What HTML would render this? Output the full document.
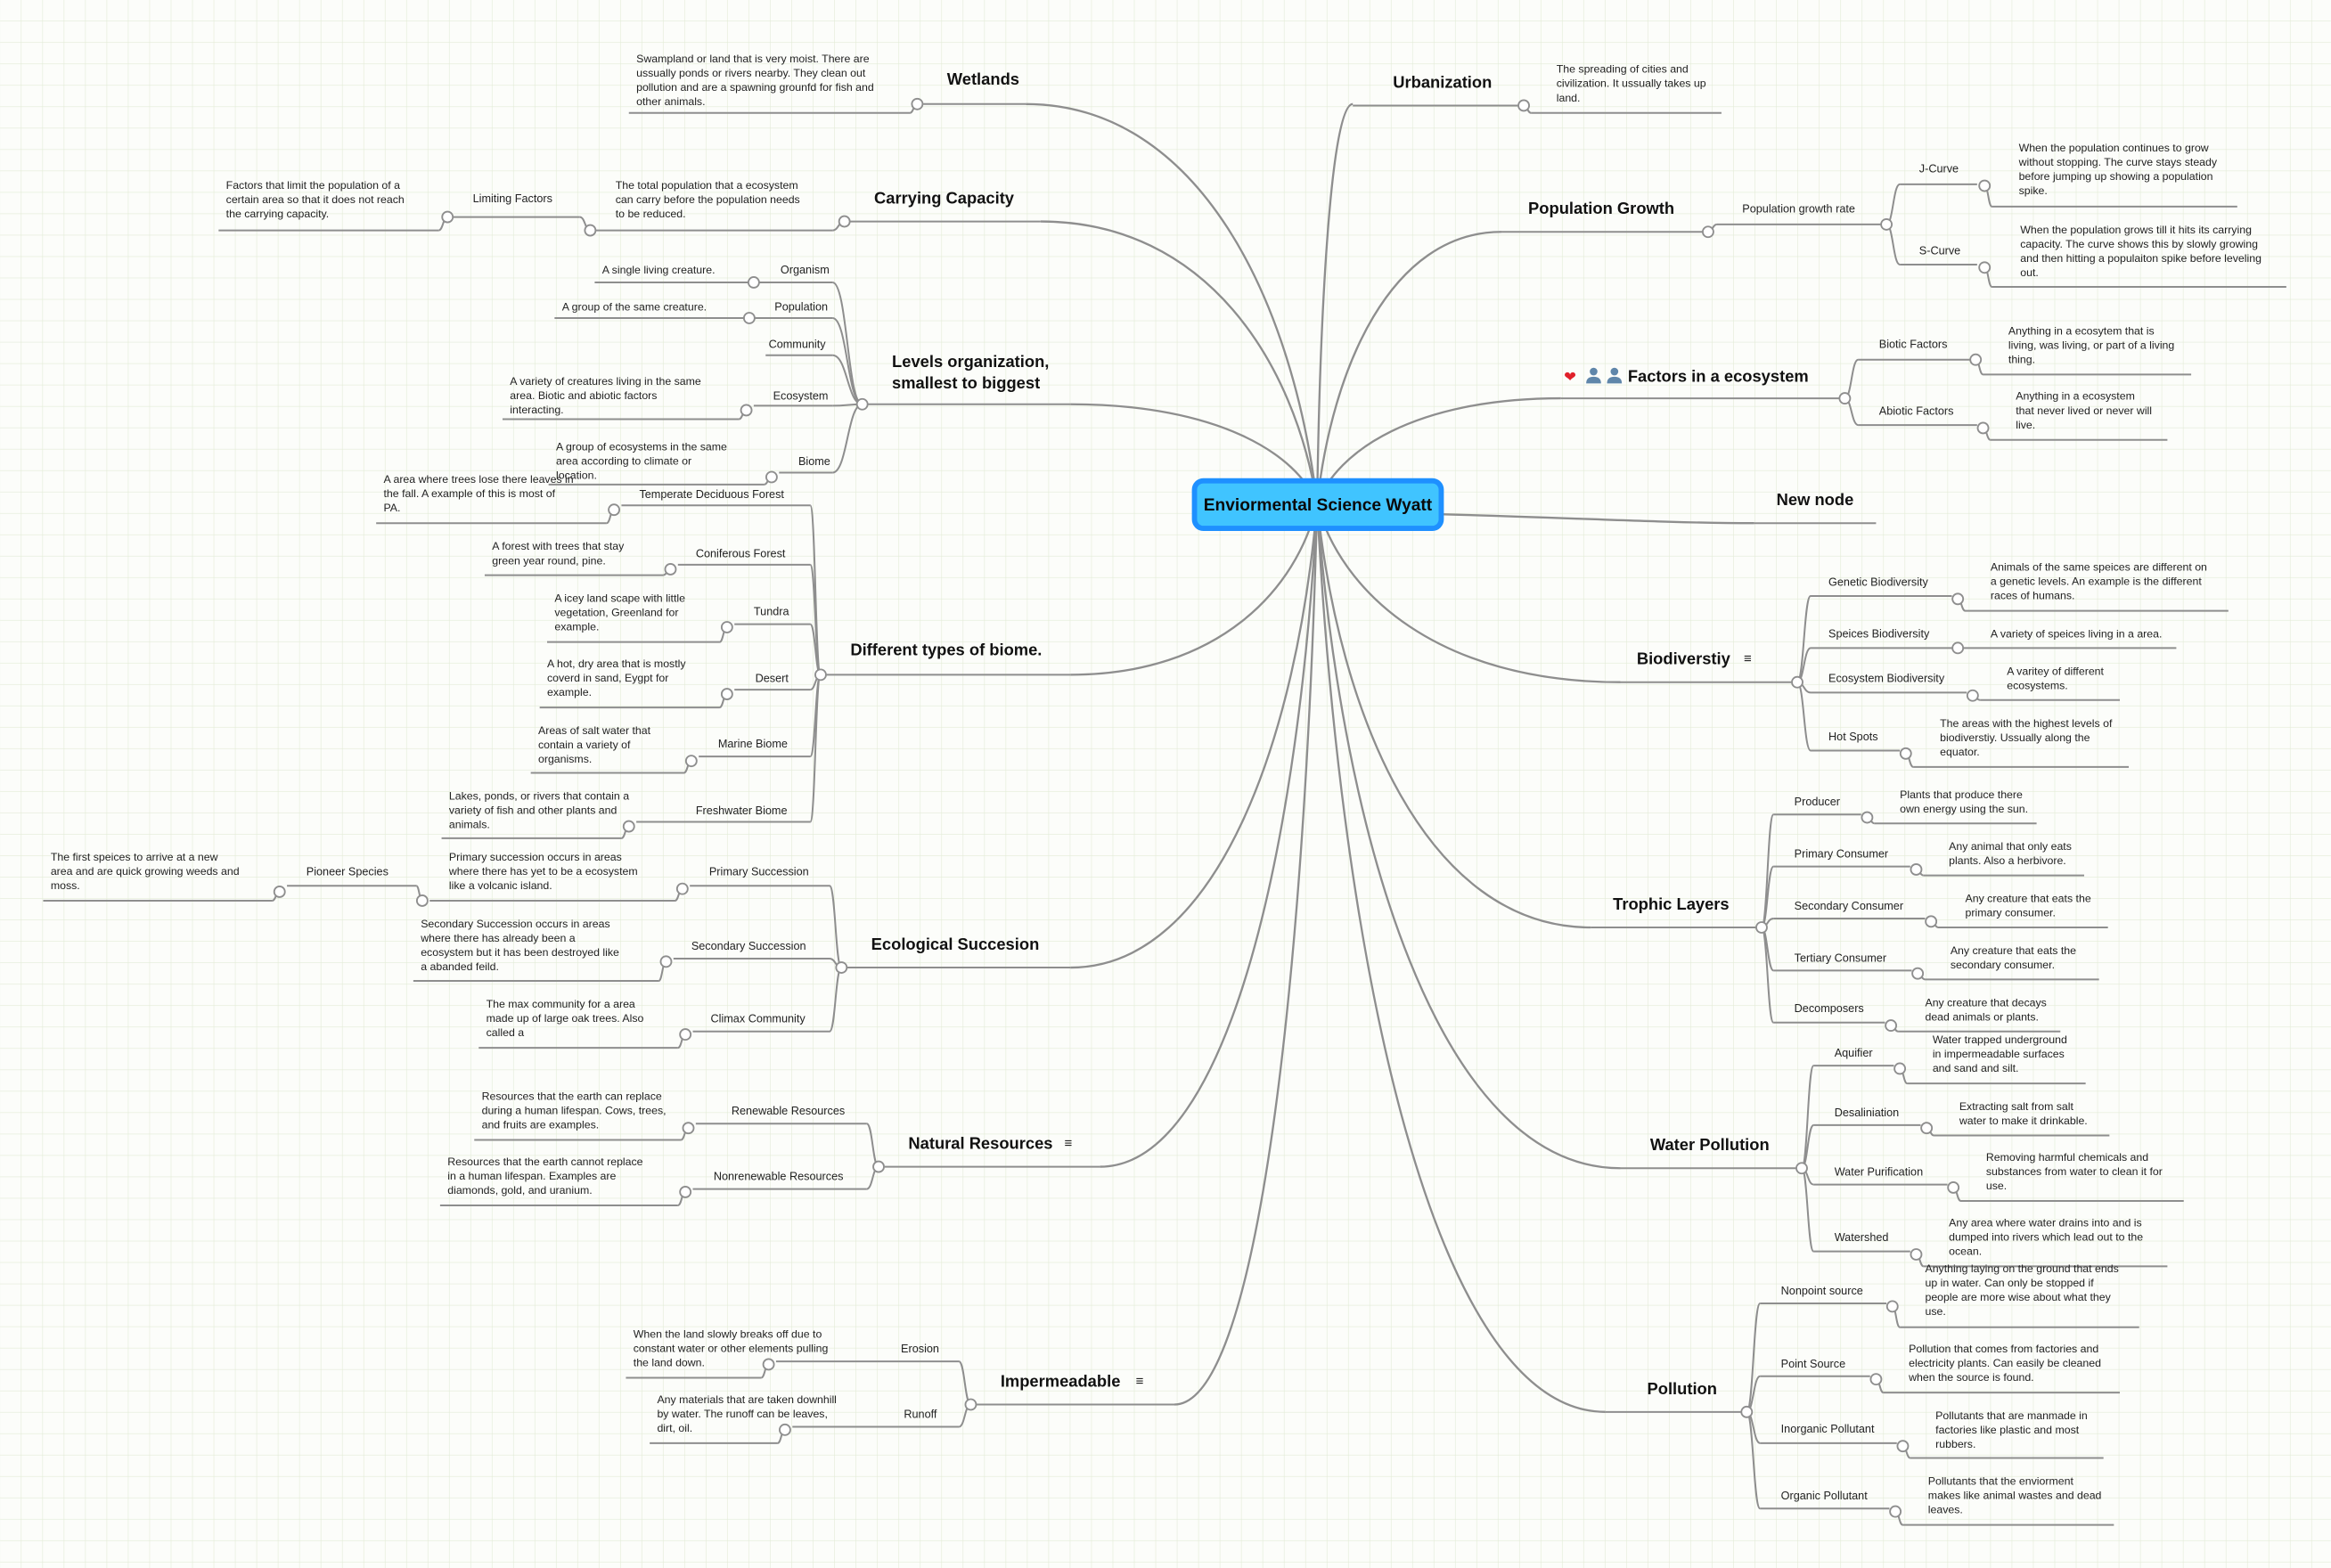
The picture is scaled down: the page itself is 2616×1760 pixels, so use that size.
<!DOCTYPE html>
<html><head><meta charset="utf-8"><style>
html,body{margin:0;padding:0;background:#fcfdfa;}
svg{display:block;}
text{font-family:"Liberation Sans",sans-serif;fill:#222;font-size:7.4px;}
.t{font-size:11px;font-weight:bold;fill:#111;}
.l{font-size:7.6px;}
</style></head><body>
<svg id="s" width="2616" height="1760" viewBox="0 0 1568 1055" xmlns="http://www.w3.org/2000/svg">
<defs><pattern id="g" width="14.4" height="14.4" patternUnits="userSpaceOnUse"><path d="M14.4 0V14.4H0" fill="none" stroke="#e2ebd6" stroke-width="0.7"/></pattern></defs>
<rect width="1568" height="1055" fill="#fcfdfa"/>
<rect width="1568" height="1055" fill="url(#g)"/>
<g id="lines" fill="none" stroke="#8e8e8e" stroke-width="1.2"></g>
<rect x="803.5" y="323.5" width="166" height="32" rx="6" fill="#40c4ff" stroke="#1e90ff" stroke-width="3.5"/>
<text x="886.5" y="343.5" text-anchor="middle" style="font-size:11.5px;font-weight:bold;fill:#0a0a0a">Enviormental Science Wyatt</text>
<g id="circ"></g>

<text class="t" x="637" y="57">Wetlands</text>
<text x="428" y="42"><tspan x="428">Swampland or land that is very moist. There are</tspan><tspan x="428" dy="9.6">ussually ponds or rivers nearby. They clean out</tspan><tspan x="428" dy="9.6">pollution and are a spawning grounfd for fish and</tspan><tspan x="428" dy="9.6">other animals.</tspan></text>

<text class="t" x="588" y="137">Carrying Capacity</text>
<text x="414" y="127"><tspan x="414">The total population that a ecosystem</tspan><tspan x="414" dy="9.6">can carry before the population needs</tspan><tspan x="414" dy="9.6">to be reduced.</tspan></text>
<text class="l" x="318" y="136">Limiting Factors</text>
<text x="152" y="127"><tspan x="152">Factors that limit the population of a</tspan><tspan x="152" dy="9.6">certain area so that it does not reach</tspan><tspan x="152" dy="9.6">the carrying capacity.</tspan></text>

<text class="t" x="600" y="247"><tspan x="600">Levels organization,</tspan><tspan x="600" dy="14.5">smallest to biggest</tspan></text>
<text class="l" x="525" y="184">Organism</text>
<text x="405" y="184">A single living creature.</text>
<text class="l" x="521" y="209">Population</text>
<text x="378" y="209">A group of the same creature.</text>
<text class="l" x="517" y="234">Community</text>
<text class="l" x="520" y="269">Ecosystem</text>
<text x="343" y="259"><tspan x="343">A variety of creatures living in the same</tspan><tspan x="343" dy="9.6">area. Biotic and abiotic factors</tspan><tspan x="343" dy="9.6">interacting.</tspan></text>
<text class="l" x="537" y="313">Biome</text>
<text x="374" y="303"><tspan x="374">A group of ecosystems in the same</tspan><tspan x="374" dy="9.6">area according to climate or</tspan><tspan x="374" dy="9.6">location.</tspan></text>

<text class="t" x="572" y="441">Different types of biome.</text>
<text class="l" x="430" y="335">Temperate Deciduous Forest</text>
<text x="258" y="325"><tspan x="258">A area where trees lose there leaves in</tspan><tspan x="258" dy="9.6">the fall. A example of this is most of</tspan><tspan x="258" dy="9.6">PA.</tspan></text>
<text class="l" x="468" y="375">Coniferous Forest</text>
<text x="331" y="370"><tspan x="331">A forest with trees that stay</tspan><tspan x="331" dy="9.6">green year round, pine.</tspan></text>
<text class="l" x="507" y="414">Tundra</text>
<text x="373" y="405"><tspan x="373">A icey land scape with little</tspan><tspan x="373" dy="9.6">vegetation, Greenland for</tspan><tspan x="373" dy="9.6">example.</tspan></text>
<text class="l" x="508" y="459">Desert</text>
<text x="368" y="449"><tspan x="368">A hot, dry area that is mostly</tspan><tspan x="368" dy="9.6">coverd in sand, Eygpt for</tspan><tspan x="368" dy="9.6">example.</tspan></text>
<text class="l" x="483" y="503">Marine Biome</text>
<text x="362" y="494"><tspan x="362">Areas of salt water that</tspan><tspan x="362" dy="9.6">contain a variety of</tspan><tspan x="362" dy="9.6">organisms.</tspan></text>
<text class="l" x="468" y="548">Freshwater Biome</text>
<text x="302" y="538"><tspan x="302">Lakes, ponds, or rivers that contain a</tspan><tspan x="302" dy="9.6">variety of fish and other plants and</tspan><tspan x="302" dy="9.6">animals.</tspan></text>

<text class="t" x="586" y="639">Ecological Succesion</text>
<text class="l" x="477" y="589">Primary Succession</text>
<text x="302" y="579"><tspan x="302">Primary succession occurs in areas</tspan><tspan x="302" dy="9.6">where there has yet to be a ecosystem</tspan><tspan x="302" dy="9.6">like a volcanic island.</tspan></text>
<text class="l" x="206" y="589">Pioneer Species</text>
<text x="34" y="579"><tspan x="34">The first speices to arrive at a new</tspan><tspan x="34" dy="9.6">area and are quick growing weeds and</tspan><tspan x="34" dy="9.6">moss.</tspan></text>
<text class="l" x="465" y="639">Secondary Succession</text>
<text x="283" y="624"><tspan x="283">Secondary Succession occurs in areas</tspan><tspan x="283" dy="9.6">where there has already been a</tspan><tspan x="283" dy="9.6">ecosystem but it has been destroyed like</tspan><tspan x="283" dy="9.6">a abanded feild.</tspan></text>
<text class="l" x="478" y="688">Climax Community</text>
<text x="327" y="678"><tspan x="327">The max community for a area</tspan><tspan x="327" dy="9.6">made up of large oak trees. Also</tspan><tspan x="327" dy="9.6">called a</tspan></text>

<text class="t" x="611" y="773">Natural Resources</text>
<text x="716" y="772" style="font-size:9px;font-weight:bold">≡</text>
<text class="l" x="492" y="750">Renewable Resources</text>
<text x="324" y="740"><tspan x="324">Resources that the earth can replace</tspan><tspan x="324" dy="9.6">during a human lifespan. Cows, trees,</tspan><tspan x="324" dy="9.6">and fruits are examples.</tspan></text>
<text class="l" x="480" y="794">Nonrenewable Resources</text>
<text x="301" y="784"><tspan x="301">Resources that the earth cannot replace</tspan><tspan x="301" dy="9.6">in a human lifespan. Examples are</tspan><tspan x="301" dy="9.6">diamonds, gold, and uranium.</tspan></text>

<text class="t" x="673" y="933">Impermeadable</text>
<text x="764" y="932" style="font-size:9px;font-weight:bold">≡</text>
<text class="l" x="606" y="910">Erosion</text>
<text x="426" y="900"><tspan x="426">When the land slowly breaks off due to</tspan><tspan x="426" dy="9.6">constant water or other elements pulling</tspan><tspan x="426" dy="9.6">the land down.</tspan></text>
<text class="l" x="608" y="954">Runoff</text>
<text x="442" y="944"><tspan x="442">Any materials that are taken downhill</tspan><tspan x="442" dy="9.6">by water. The runoff can be leaves,</tspan><tspan x="442" dy="9.6">dirt, oil.</tspan></text>

<text class="t" x="937" y="59">Urbanization</text>
<text x="1047" y="49"><tspan x="1047">The spreading of cities and</tspan><tspan x="1047" dy="9.6">civilization. It ussually takes up</tspan><tspan x="1047" dy="9.6">land.</tspan></text>

<text class="t" x="1028" y="144">Population Growth</text>
<text class="l" x="1172" y="143">Population growth rate</text>
<text class="l" x="1291" y="116">J-Curve</text>
<text x="1358" y="102"><tspan x="1358">When the population continues to grow</tspan><tspan x="1358" dy="9.6">without stopping. The curve stays steady</tspan><tspan x="1358" dy="9.6">before jumping up showing a population</tspan><tspan x="1358" dy="9.6">spike.</tspan></text>
<text class="l" x="1291" y="171">S-Curve</text>
<text x="1359" y="157"><tspan x="1359">When the population grows till it hits its carrying</tspan><tspan x="1359" dy="9.6">capacity. The curve shows this by slowly growing</tspan><tspan x="1359" dy="9.6">and then hitting a populaiton spike before leveling</tspan><tspan x="1359" dy="9.6">out.</tspan></text>

<text x="1052" y="257" style="font-size:10px;fill:#e0202a">❤</text>
<g fill="#5f86aa"><circle cx="1072" cy="250" r="2.6"/><path d="M1067 258 Q1067 253.5 1072 253.5 Q1077 253.5 1077 258Z"/><circle cx="1086" cy="250" r="2.6"/><path d="M1081 258 Q1081 253.5 1086 253.5 Q1091 253.5 1091 258Z"/></g>
<text class="t" x="1095" y="257">Factors in a ecosystem</text>
<text class="l" x="1264" y="234">Biotic Factors</text>
<text x="1351" y="225"><tspan x="1351">Anything in a ecosytem that is</tspan><tspan x="1351" dy="9.6">living, was living, or part of a living</tspan><tspan x="1351" dy="9.6">thing.</tspan></text>
<text class="l" x="1264" y="279">Abiotic Factors</text>
<text x="1356" y="269"><tspan x="1356">Anything in a ecosystem</tspan><tspan x="1356" dy="9.6">that never lived or never will</tspan><tspan x="1356" dy="9.6">live.</tspan></text>

<text class="t" x="1195" y="340">New node</text>

<text class="t" x="1101" y="447">Biodiverstiy</text>
<text x="1173" y="446" style="font-size:9px;font-weight:bold">≡</text>
<text class="l" x="1230" y="394">Genetic Biodiversity</text>
<text x="1339" y="384"><tspan x="1339">Animals of the same speices are different on</tspan><tspan x="1339" dy="9.6">a genetic levels. An example is the different</tspan><tspan x="1339" dy="9.6">races of humans.</tspan></text>
<text class="l" x="1230" y="429">Speices Biodiversity</text>
<text x="1339" y="429">A variety of speices living in a area.</text>
<text class="l" x="1230" y="459">Ecosystem Biodiversity</text>
<text x="1350" y="454"><tspan x="1350">A varitey of different</tspan><tspan x="1350" dy="9.6">ecosystems.</tspan></text>
<text class="l" x="1230" y="498">Hot Spots</text>
<text x="1305" y="489"><tspan x="1305">The areas with the highest levels of</tspan><tspan x="1305" dy="9.6">biodiverstiy. Ussually along the</tspan><tspan x="1305" dy="9.6">equator.</tspan></text>

<text class="t" x="1085" y="612">Trophic Layers</text>
<text class="l" x="1207" y="542">Producer</text>
<text x="1278" y="537"><tspan x="1278">Plants that produce there</tspan><tspan x="1278" dy="9.6">own energy using the sun.</tspan></text>
<text class="l" x="1207" y="577">Primary Consumer</text>
<text x="1311" y="572"><tspan x="1311">Any animal that only eats</tspan><tspan x="1311" dy="9.6">plants. Also a herbivore.</tspan></text>
<text class="l" x="1207" y="612">Secondary Consumer</text>
<text x="1322" y="607"><tspan x="1322">Any creature that eats the</tspan><tspan x="1322" dy="9.6">primary consumer.</tspan></text>
<text class="l" x="1207" y="647">Tertiary Consumer</text>
<text x="1312" y="642"><tspan x="1312">Any creature that eats the</tspan><tspan x="1312" dy="9.6">secondary consumer.</tspan></text>
<text class="l" x="1207" y="681">Decomposers</text>
<text x="1295" y="677"><tspan x="1295">Any creature that decays</tspan><tspan x="1295" dy="9.6">dead animals or plants.</tspan></text>

<text class="t" x="1110" y="774">Water Pollution</text>
<text class="l" x="1234" y="711">Aquifier</text>
<text x="1300" y="702"><tspan x="1300">Water trapped underground</tspan><tspan x="1300" dy="9.6">in impermeadable surfaces</tspan><tspan x="1300" dy="9.6">and sand and silt.</tspan></text>
<text class="l" x="1234" y="751">Desaliniation</text>
<text x="1318" y="747"><tspan x="1318">Extracting salt from salt</tspan><tspan x="1318" dy="9.6">water to make it drinkable.</tspan></text>
<text class="l" x="1234" y="791">Water Purification</text>
<text x="1336" y="781"><tspan x="1336">Removing harmful chemicals and</tspan><tspan x="1336" dy="9.6">substances from water to clean it for</tspan><tspan x="1336" dy="9.6">use.</tspan></text>
<text class="l" x="1234" y="835">Watershed</text>
<text x="1311" y="825"><tspan x="1311">Any area where water drains into and is</tspan><tspan x="1311" dy="9.6">dumped into rivers which lead out to the</tspan><tspan x="1311" dy="9.6">ocean.</tspan></text>

<text class="t" x="1108" y="938">Pollution</text>
<text class="l" x="1198" y="871">Nonpoint source</text>
<text x="1295" y="856"><tspan x="1295">Anything laying on the ground that ends</tspan><tspan x="1295" dy="9.6">up in water. Can only be stopped if</tspan><tspan x="1295" dy="9.6">people are more wise about what they</tspan><tspan x="1295" dy="9.6">use.</tspan></text>
<text class="l" x="1198" y="920">Point  Source</text>
<text x="1284" y="910"><tspan x="1284">Pollution that comes from factories and</tspan><tspan x="1284" dy="9.6">electricity plants. Can easily be cleaned</tspan><tspan x="1284" dy="9.6">when the source is found.</tspan></text>
<text class="l" x="1198" y="964">Inorganic Pollutant</text>
<text x="1302" y="955"><tspan x="1302">Pollutants that are manmade in</tspan><tspan x="1302" dy="9.6">factories like plastic and most</tspan><tspan x="1302" dy="9.6">rubbers.</tspan></text>
<text class="l" x="1198" y="1009">Organic Pollutant</text>
<text x="1297" y="999"><tspan x="1297">Pollutants that the enviorment</tspan><tspan x="1297" dy="9.6">makes like animal wastes and dead</tspan><tspan x="1297" dy="9.6">leaves.</tspan></text>
</svg>
<script>
(function(){
var NS="http://www.w3.org/2000/svg";
var lg=document.getElementById("lines"), cg=document.getElementById("circ");
function P(d,w){var p=document.createElementNS(NS,"path");p.setAttribute("d",d);if(w)p.setAttribute("stroke-width",w);lg.appendChild(p);}
var sx=886,sy=339;
var mains=[[690,70],[700,149],[720,272],[720,454],[720,651],[740,785],[790,945],[910,70],[1010,156],[1050,268],[1090,459],[1070,624],[1090,786],[1080,950]];
mains.forEach(function(m){var ex=m[0],ty=m[1];
P("M"+sx+" "+sy+" C"+(sx+(ex-sx)*0.08)+" "+(sy+(ty-sy)*0.5)+" "+(sx+(ex-sx)*0.4)+" "+ty+" "+ex+" "+ty,1.4);});
P("M969 346 C1050 348 1120 352 1180 352",1.4);
var U=[[621,690,70],[572,700,149],[584,720,272],[556,720,454],[570,720,651],[595,740,785],[657,790,945],
[910,1021,71],[1010,1145,156],[1050,1237,268],[1180,1262,352],[1090,1205,459],[1070,1181,624],[1090,1208,786],[1080,1171,950],
[423,612,76],[400,560,155],[305,390,146],[147,295,155],
[400,560,190],[373,560,214],[515,560,239],[507,560,273],[338,497,282],[524,560,318],[369,514,326],
[418,545,340],[253,408,352],[456,545,380],[326,446,387],[494,545,420],[368,484,432],[494,545,464],[363,484,476],[470,545,509],[357,460,520],[428,545,553],[297,418,564],
[464,558,596],[289,454,606],[193,280,596],[29,183,606],[453,558,645],[278,443,660],[466,558,694],[322,456,705],
[468,583,756],[319,458,767],[466,583,800],[296,456,811],[522,645,916],[421,512,927],[533,645,960],[437,523,971],
[1030,1158,76],[1155,1265,151],[1278,1330,124],[1340,1505,139],[1278,1330,178],[1340,1538,193],
[1250,1325,242],[1334,1474,252],[1250,1330,286],[1339,1458,296],
[1218,1313,401],[1322,1499,411],[1218,1464,436],[1218,1323,466],[1332,1426,471],[1218,1278,505],[1287,1432,516],
[1193,1252,548],[1261,1370,554],[1193,1285,583],[1294,1402,589],[1193,1295,618],[1304,1418,624],[1193,1286,653],[1295,1412,659],[1193,1268,688],[1277,1386,694],
[1220,1274,717],[1283,1403,729],[1220,1292,757],[1301,1419,764],[1220,1310,797],[1319,1469,808],[1220,1285,842],[1294,1458,852],
[1184,1269,877],[1278,1439,893],[1184,1258,926],[1267,1426,937],[1184,1276,971],[1285,1415,981],[1184,1271,1015],[1280,1422,1026]];
U.forEach(function(u){P("M"+u[0]+" "+u[2]+" H"+u[1]);});
var K=[[617,70,612,76],[568,149,560,155],[397,155,390,146],[301,146,295,155],
[580,272,560,190],[580,272,560,214],[580,272,560,239],[580,272,560,273],[580,272,560,318],[502,276,497,282],[519,321,514,326],
[552,454,545,340],[552,454,545,380],[552,454,545,420],[552,454,545,464],[552,454,545,509],[552,454,545,553],
[413,343,408,352],[451,383,446,387],[489,422,484,432],[489,467,484,476],[465,512,460,520],[423,556,418,564],
[566,651,558,596],[566,651,558,645],[566,651,558,694],[459,598,454,606],[284,606,280,596],[188,600,183,606],[448,647,443,660],[461,696,456,705],
[591,785,583,756],[591,785,583,800],[463,759,458,767],[461,802,456,811],
[653,945,645,916],[653,945,645,960],[517,918,512,927],[528,962,523,971],
[1025,71,1030,76],[1149,156,1155,151],[1269,151,1278,124],[1269,151,1278,178],[1335,125,1340,139],[1335,180,1340,193],
[1241,268,1250,242],[1241,268,1250,286],[1329,242,1334,252],[1334,288,1339,296],
[1209,459,1218,401],[1209,459,1218,436],[1209,459,1218,466],[1209,459,1218,505],[1317,403,1322,411],[1327,468,1332,471],[1282,507,1287,516],
[1185,624,1193,548],[1185,624,1193,583],[1185,624,1193,618],[1185,624,1193,653],[1185,624,1193,688],
[1256,550,1261,554],[1289,585,1294,589],[1299,620,1304,624],[1290,655,1295,659],[1272,690,1277,694],
[1212,786,1220,717],[1212,786,1220,757],[1212,786,1220,797],[1212,786,1220,842],
[1278,719,1283,729],[1296,759,1301,764],[1314,799,1319,808],[1289,844,1294,852],
[1175,950,1184,877],[1175,950,1184,926],[1175,950,1184,971],[1175,950,1184,1015],
[1273,879,1278,893],[1262,928,1267,937],[1280,973,1285,981],[1275,1017,1280,1026]];
K.forEach(function(k){var mx=(k[0]+k[2])/2;P("M"+k[0]+" "+k[1]+" C"+mx+" "+k[1]+" "+mx+" "+k[3]+" "+k[2]+" "+k[3]);});
var C=[[617,70],[568,149],[397,155],[301,146],[580,272],[507,190],[504,214],[502,276],[519,321],[552,454],[413,343],[451,383],[489,422],[489,467],[465,512],[423,556],
[566,651],[459,598],[284,606],[188,600],[448,647],[461,696],[591,785],[463,759],[461,802],[653,945],[517,918],[528,962],
[1025,71],[1149,156],[1269,151],[1335,125],[1335,180],[1241,268],[1329,242],[1334,288],[1209,459],[1317,403],[1317,436],[1327,468],[1282,507],
[1185,624],[1256,550],[1289,585],[1299,620],[1290,655],[1272,690],[1212,786],[1278,719],[1296,759],[1314,799],[1289,844],
[1175,950],[1273,879],[1262,928],[1280,973],[1275,1017]];
C.forEach(function(c){var e=document.createElementNS(NS,"circle");e.setAttribute("cx",c[0]);e.setAttribute("cy",c[1]);e.setAttribute("r",3.6);e.setAttribute("fill","#fff");e.setAttribute("stroke","#8e8e8e");e.setAttribute("stroke-width","1.1");cg.appendChild(e);});
})();
</script>
</body></html>
